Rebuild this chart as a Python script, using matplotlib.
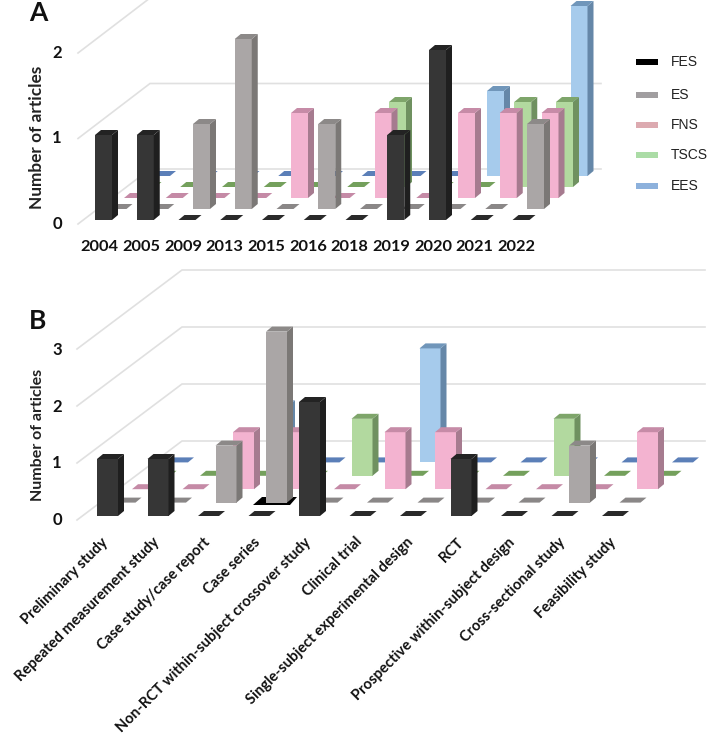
# -*- coding: utf-8 -*-
# 3D style bar charts drawn on a flat axes with an oblique projection

import matplotlib
matplotlib.use('Agg')
import matplotlib.pyplot as plt

plt.rcParams['font.family'] = ['Lato', 'DejaVu Sans']

# Data
series_names = ['FES', 'ES', 'FNS', 'TSCS', 'EES']

years = ['2004', '2005', '2009', '2013', '2015', '2016', '2018', '2019', '2020', '2021', '2022']
a_fes = [1, 1, 0, 0, 0, 0, 0, 1, 2, 0, 0]
a_es = [0, 0, 1, 2, 0, 1, 0, 0, 0, 0, 1]
a_fns = [0, 0, 0, 0, 1, 0, 1, 0, 1, 1, 1]
a_tscs = [0, 0, 0, 0, 0, 0, 1, 0, 0, 1, 1]
a_ees = [0, 0, 0, 0, 0, 0, 0, 0, 1, 0, 2]

designs = ['Preliminary study', 'Repeated measurement study', 'Case study/case report',
           'Case series', 'Non-RCT within-subject crossover study', 'Clinical trial',
           'Single-subject experimental design', 'RCT', 'Prospective within-subject design',
           'Cross-sectional study', 'Feasibility study']
b_fes = [1, 1, 0, 0, 2, 0, 0, 1, 0, 0, 0]
b_es = [0, 0, 1, 3, 0, 0, 0, 0, 0, 1, 0]
b_fns = [0, 0, 1, 1, 0, 1, 1, 0, 0, 0, 1]
b_tscs = [0, 0, 0, 0, 1, 0, 0, 0, 1, 0, 0]
b_ees = [0, 0, 1, 0, 0, 2, 0, 0, 0, 0, 0]

# Colours: face, side, top, flat dash
colors = {
    'FES': ('#363636', '#1f1f1f', '#232323', '#2a2a2a'),
    'ES': ('#aaa6a6', '#7b7876', '#8c8988', '#8a8787'),
    'FNS': ('#f3b3d0', '#a67b8f', '#c68ba7', '#c58aa6'),
    'TSCS': ('#b2d99f', '#6f9160', '#7ea56a', '#74a05c'),
    'EES': ('#a6cbec', '#6587a8', '#7096ba', '#5b7fb8'),
}
legend_colors = ['#000000', '#a19ea0', '#dcaab0', '#abdca6', '#8db1dc']
grid_color = '#e0e0e0'

fig = plt.figure(figsize=(7.08, 7.39), dpi=100)
ax = fig.add_axes([0, 0, 1, 1])
ax.set_xlim(0, 708)
ax.set_ylim(739, 0)
ax.axis('off')


def draw_panel(values, x0, y0, unit, step, width, ser_dx, ser_dy, dep_dx=6, dep_dy=5):
    # back series first so the front ones cover them
    for s in range(len(series_names) - 1, -1, -1):
        face, side, top, dash = colors[series_names[s]]
        for c, v in enumerate(values[s]):
            xl = x0 + c * step + s * ser_dx
            xr = xl + width
            yb = y0 + s * ser_dy
            yt = yb - v * unit
            top_x = [xl, xr, xr + dep_dx, xl + dep_dx]
            top_y = [yt, yt, yt - dep_dy, yt - dep_dy]
            if v == 0:
                ax.fill(top_x, top_y, color=dash, lw=0, zorder=3)
                continue
            ax.fill([xl, xr, xr, xl], [yb, yb, yt, yt], color=face, lw=0, zorder=3)
            ax.fill([xr, xr + dep_dx, xr + dep_dx, xr],
                    [yb, yb - dep_dy, yt - dep_dy, yt], color=side, lw=0, zorder=3)
            ax.fill(top_x, top_y, color=top, lw=0, zorder=3)


def draw_grid(levels, left_x, left_y0, wall_x, wall_y0, right_x, unit):
    for v in levels:
        ax.plot([left_x, wall_x, right_x],
                [left_y0 - v * unit, wall_y0 - v * unit, wall_y0 - v * unit],
                color=grid_color, lw=1.2, zorder=1, solid_joinstyle='miter')


# ------------------- PANEL A -------------------
draw_grid([0, 1, 2], 78, 224, 150, 169, 601, 85.5)
draw_panel([a_fes, a_es, a_fns, a_tscs, a_ees], 95, 220, 85, 41.75, 17, 14.5, -11)

for i, y in enumerate(years):
    ax.text(99.5 + i * 41.7, 247, y, fontsize=11.8, fontweight='bold', ha='center', va='center', color='#111111')
for v, y in zip([0, 1, 2], [224, 138, 53]):
    ax.text(57, y, str(v), fontsize=12, fontweight='bold', ha='center', va='center', color='#111111')
ax.text(37, 137, 'Number of articles', fontsize=12.4, fontweight='bold', rotation=90,
        ha='center', va='center', color='#222222')
ax.text(38, 13, 'A', fontsize=19, fontweight='bold', ha='center', va='center', color='#111111')

# Legend
for name, col, y in zip(series_names, legend_colors, [62, 95, 125, 155, 186]):
    ax.fill([636, 658, 658, 636], [y - 3.2, y - 3.2, y + 3.2, y + 3.2], color=col, lw=0)
    ax.text(671, y, name, fontsize=10, family=['Liberation Sans'], ha='left', va='center', color='#222222')

# ------------------- PANEL B -------------------
draw_grid([0, 1, 2, 3], 77, 520, 182, 441, 705, 57)
# dark smear under the tall case series bar
ax.fill([253, 290, 297, 262], [505, 505, 497, 497], color='#000000', lw=0, zorder=2)
draw_panel([b_fes, b_es, b_fns, b_tscs, b_ees], 97, 516, 57, 50.5, 21, 17.5, -13.4)

for i, d in enumerate(designs):
    ax.text(101 + i * 50.8, 535, d, fontsize=10.6, fontweight='bold', rotation=45,
            rotation_mode='anchor', ha='right', va='top', color='#111111')
for v, y in zip([0, 1, 2, 3], [520, 463, 407, 350]):
    ax.text(57, y, str(v), fontsize=12, fontweight='bold', ha='center', va='center', color='#111111')
ax.text(38, 435, 'Number of articles', fontsize=11.5, fontweight='bold', rotation=90,
        ha='center', va='center', color='#222222')
ax.text(38, 321, 'B', fontsize=19, fontweight='bold', ha='center', va='center', color='#111111')

plt.savefig('out.png', dpi=100)
